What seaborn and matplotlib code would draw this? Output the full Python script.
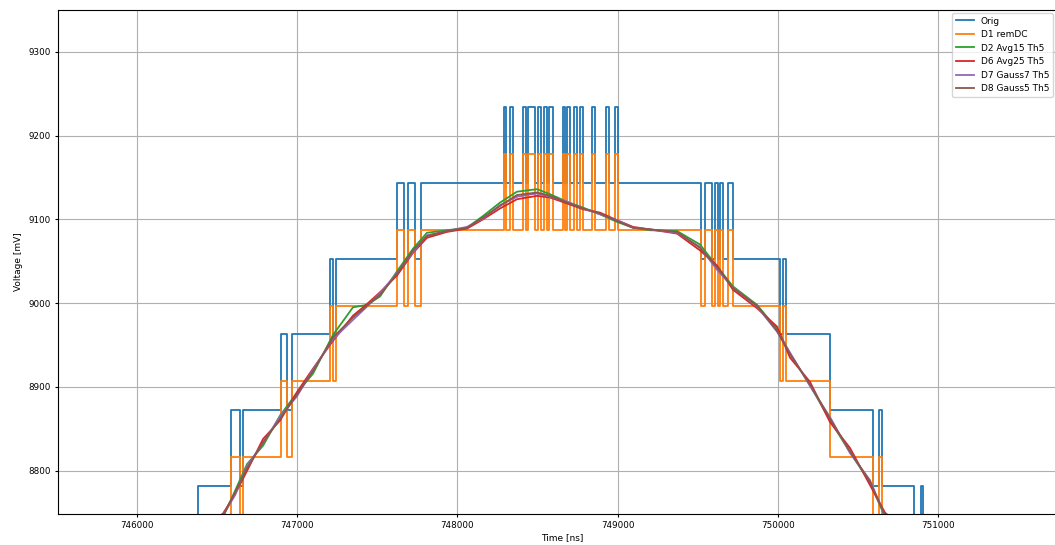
import pandas as pd
import matplotlib
matplotlib.use('Agg')
import matplotlib.pyplot as plt
import seaborn as sns

plt.style.use('default')

# Raw quantised signal: level changes (steps-post), time in ns, voltage in mV
orig_t = [745400, 746381, 746587, 746643, 746662, 746899, 746936, 746968,
          747205, 747223, 747242, 747623, 747667, 747692, 747735, 747773,
          748291, 748303, 748328, 748347, 748409, 748428, 748441, 748484,
          748503, 748522, 748540, 748559, 748572, 748597, 748659, 748672,
          748684, 748703, 748728, 748746, 748765, 748784, 748840, 748859,
          748927, 748946, 748984, 749002,
          749520, 749545, 749589, 749608, 749627, 749639, 749658, 749689, 749720,
          750014, 750032, 750051, 750326, 750594, 750632, 750650, 750850,
          750894, 750906, 751900]

orig_mv = [8692, 8782, 8872, 8782, 8872, 8963, 8872, 8963,
           9053, 8963, 9053, 9143, 9053, 9143, 9053, 9143,
           9234, 9143, 9234, 9143, 9234, 9143, 9234, 9143,
           9234, 9143, 9234, 9143, 9234, 9143, 9234, 9143,
           9234, 9143, 9234, 9143, 9234, 9143, 9234, 9143,
           9234, 9143, 9234, 9143,
           9053, 9143, 9053, 9143, 9053, 9143, 9053, 9143, 9053,
           8963, 9053, 8963, 8872, 8782, 8872, 8782, 8692,
           8782, 8692, 8692]

# D1 remDC (same change points as Orig)
d1_mv = [8635, 8725, 8816, 8725, 8816, 8907, 8816, 8907,
         8997, 8907, 8997, 9087, 8997, 9087, 8997, 9087,
         9178, 9087, 9178, 9087, 9178, 9087, 9178, 9087,
         9178, 9087, 9178, 9087, 9178, 9087, 9178, 9087,
         9178, 9087, 9178, 9087, 9178, 9087, 9178, 9087,
         9178, 9087, 9178, 9087,
         8997, 9087, 8997, 9087, 8997, 9087, 8997, 9087, 8997,
         8907, 8997, 8907, 8816, 8725, 8816, 8725, 8635,
         8725, 8635, 8635]

# filtered signals, read at common time points
t_smooth = [746450, 746537, 746612, 746687, 746787, 746893, 746999, 747099,
            747223, 747348, 747436, 747517, 747623, 747723, 747810, 747935,
            748060, 748160, 748266, 748372, 748497, 748578, 748684, 748784,
            748890, 748996, 749096, 749202, 749371, 749514, 749620, 749720,
            749870, 749995, 750076, 750201, 750326, 750451, 750575, 750669,
            750760]

d2_mv = [8733, 8745, 8776, 8808, 8830, 8866, 8893, 8916, 8962, 8995, 8998,
         9008, 9038, 9065, 9084, 9087, 9090, 9104, 9120, 9133, 9136, 9130,
         9121, 9114, 9106, 9097, 9090, 9087, 9086, 9070, 9044, 9020, 8998,
         8969, 8940, 8902, 8860, 8822, 8786, 8745, 8731]

d6_mv = [8737, 8749, 8772, 8800, 8838, 8860, 8894, 8922, 8955, 8985, 8999,
         9013, 9033, 9060, 9078, 9085, 9089, 9100, 9113, 9124, 9128, 9126,
         9119, 9112, 9108, 9099, 9091, 9088, 9083, 9063, 9045, 9016, 8994,
         8972, 8935, 8906, 8858, 8827, 8783, 8750, 8735]

d7_mv = [8736, 8747, 8771, 8806, 8833, 8865, 8889, 8921, 8957, 8980, 8996,
         9012, 9036, 9061, 9081, 9086, 9091, 9101, 9117, 9127, 9131, 9127,
         9121, 9113, 9106, 9099, 9090, 9088, 9084, 9067, 9040, 9019, 8996,
         8966, 8941, 8901, 8864, 8821, 8789, 8746, 8732]

d8_mv = [8735, 8746, 8774, 8803, 8834, 8862, 8891, 8919, 8959, 8983, 8997,
         9010, 9035, 9063, 9080, 9086, 9090, 9102, 9116, 9129, 9132, 9128,
         9120, 9113, 9107, 9098, 9090, 9088, 9085, 9066, 9043, 9018, 8997,
         8967, 8939, 8903, 8862, 8823, 8787, 8747, 8733]

raw = pd.DataFrame({'t': orig_t, 'Orig': orig_mv, 'D1 remDC': d1_mv})
filt = pd.DataFrame({'t': t_smooth, 'D2 Avg15 Th5': d2_mv, 'D6 Avg25 Th5': d6_mv,
                     'D7 Gauss7 Th5': d7_mv, 'D8 Gauss5 Th5': d8_mv})

fig, ax = plt.subplots(figsize=(10.55, 5.45), dpi=100)
# plot area runs past the right edge of the image (screenshot was cropped)
fig.subplots_adjust(left=0.055, right=1.01, bottom=0.057, top=0.982)

colors = ['C0', 'C1', 'C2', 'C3', 'C4', 'C5']
for i, name in enumerate(['Orig', 'D1 remDC']):
    sns.lineplot(data=raw, x='t', y=name, ax=ax, color=colors[i], lw=1.3,
                 drawstyle='steps-post', estimator=None, label=name)
for i, name in enumerate(['D2 Avg15 Th5', 'D6 Avg25 Th5', 'D7 Gauss7 Th5', 'D8 Gauss5 Th5']):
    sns.lineplot(data=filt, x='t', y=name, ax=ax, color=colors[i + 2], lw=1.3,
                 estimator=None, label=name)

ax.set_xlim(745507, 751796)
ax.set_ylim(8748.5, 9350)
ax.set_xticks([746000, 747000, 748000, 749000, 750000, 751000])
ax.set_yticks([8800, 8900, 9000, 9100, 9200, 9300])
ax.ticklabel_format(useOffset=False, style='plain')
ax.tick_params(labelsize=6.3, length=2.5, pad=2.5)
ax.grid(True)
ax.set_xlabel('Time [ns]', fontsize=6.5, labelpad=2)
ax.set_ylabel('Voltage [mV]', fontsize=6.5, labelpad=4)
ax.legend(loc='upper right', fontsize=6.5, bbox_to_anchor=(1053 / 1055, 1 - 13 / 545),
          bbox_transform=fig.transFigure, borderaxespad=0)

plt.savefig('out.png', dpi=100)
